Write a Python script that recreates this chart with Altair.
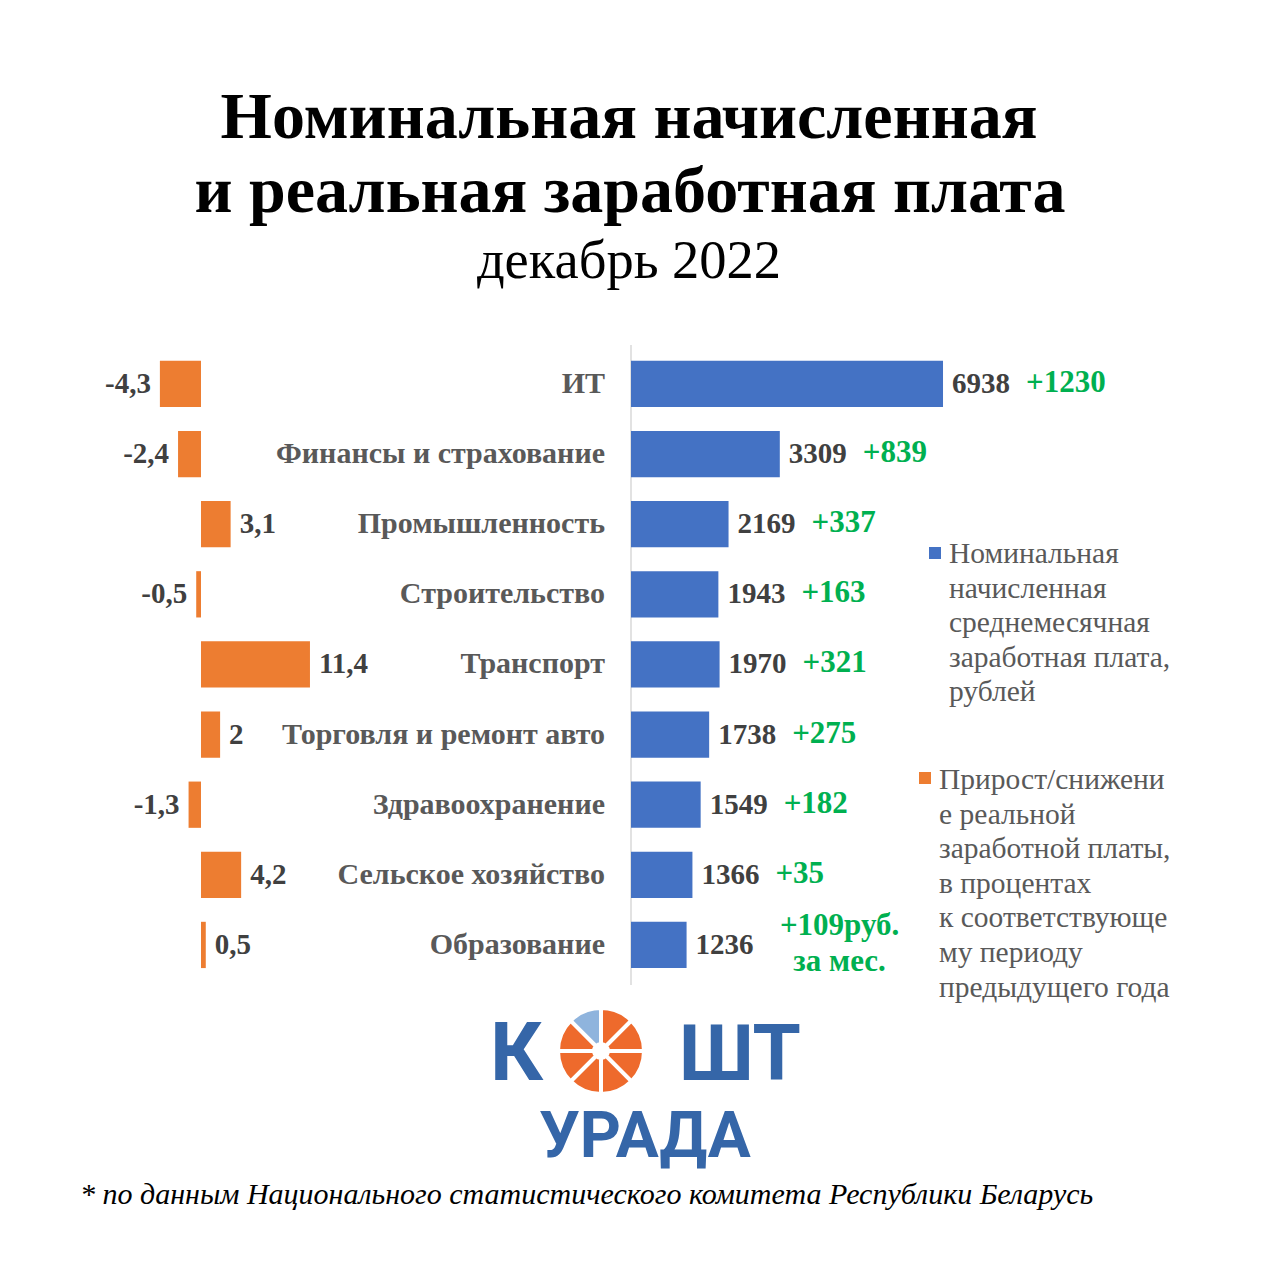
import altair as alt
import pandas as pd

# ---- data ----
categories = ["ИТ", "Финансы и страхование", "Промышленность", "Строительство",
              "Транспорт", "Торговля и ремонт авто", "Здравоохранение",
              "Сельское хозяйство", "Образование"]
nominal = [6938, 3309, 2169, 1943, 1970, 1738, 1549, 1366, 1236]
real_change = [-4.3, -2.4, 3.1, -0.5, 11.4, 2, -1.3, 4.2, 0.5]
increase = ["+1230", "+839", "+337", "+163", "+321", "+275", "+182", "+35",
            "+109руб.\nза мес."]

title_lines = ["Номинальная начисленная", "и реальная заработная плата"]
subtitle = "декабрь 2022"
legend_nominal = "Номинальная\nначисленная\nсреднемесячная\nзаработная плата,\nрублей"
legend_real = ("Прирост/снижени\nе реальной\nзаработной платы,\nв процентах\n"
               "к соответствующе\nму периоду\nпредыдущего года")
footnote = "* по данным Национального статистического комитета Республики Беларусь"
logo_segments = [1, 1, 1, 1, 1, 1, 1, 1]
logo_colors = ["#EE6A2C", "#EE6A2C", "#EE6A2C", "#EE6A2C",
               "#EE6A2C", "#EE6A2C", "#EE6A2C", "#8FB4DD"]

BLUE = "#4472C4"
ORANGE = "#ED7D31"
GREEN = "#00B050"
DARK = "#404040"
GRAY = "#595959"
LOGO_BLUE = "#3566A8"
SERIF = "Liberation Serif"

df = pd.DataFrame({
    "cat": categories,
    "nominal": nominal,
    "real": real_change,
    "real_label": [f"{v:g}".replace(".", ",") for v in real_change],
    "inc": increase,
    "last": [i == len(categories) - 1 for i in range(len(categories))],
})

yscale = alt.Scale(domain=categories, range=[340.9, 972.0],
                   paddingInner=0.34, paddingOuter=0.17)
Y = alt.Y("cat:N", sort=categories, scale=yscale, axis=None)
bscale = alt.Scale(domain=[0, 7000], range=[623, 937.8])
oscale = alt.Scale(domain=[-5, 12], range=[145.2, 307.7])
XB = alt.X("nominal:Q", scale=bscale, axis=None)
XO = alt.X("real:Q", scale=oscale, axis=None)

base = alt.Chart(df)

blue_bars = base.mark_bar(color=BLUE).encode(x=XB, y=Y)
orange_bars = base.mark_bar(color=ORANGE).encode(x=XO, y=Y)

blue_vals = base.mark_text(align="left", baseline="middle", dx=9, font=SERIF,
                           fontSize=29, fontWeight="bold", color=DARK).encode(
    x=XB, y=Y, text="nominal:Q")

green_main = base.transform_filter("!datum.last").mark_text(
    align="left", baseline="middle", dx=83, dy=-1, font=SERIF, fontSize=31,
    fontWeight="bold", color=GREEN).encode(x=XB, y=Y, text="inc:N")

green_last = base.transform_filter("datum.last").mark_text(
    align="center", baseline="middle", dx=153, dy=-19, font=SERIF, fontSize=31,
    fontWeight="bold", color=GREEN, lineBreak="\n", lineHeight=36).encode(
    x=XB, y=Y, text="inc:N")

neg_labels = base.transform_filter("datum.real < 0").mark_text(
    align="right", baseline="middle", dx=-9, font=SERIF, fontSize=29,
    fontWeight="bold", color=DARK).encode(x=XO, y=Y, text="real_label:N")
pos_labels = base.transform_filter("datum.real >= 0").mark_text(
    align="left", baseline="middle", dx=9, font=SERIF, fontSize=29,
    fontWeight="bold", color=DARK).encode(x=XO, y=Y, text="real_label:N")

cat_labels = base.mark_text(align="right", baseline="middle", font=SERIF,
                            fontSize=30, fontWeight="bold", color=GRAY).encode(
    x=alt.value(597), y=Y, text="cat:N")

axis_line = alt.Chart(pd.DataFrame({"a": [0]})).mark_rule(
    color="#D9D9D9", strokeWidth=1.5).encode(
    x=alt.value(623), y=alt.value(337), y2=alt.value(977))


def text_layer(txt, x, y, **kw):
    return alt.Chart(pd.DataFrame({"t": [txt]})).mark_text(**kw).encode(
        x=alt.value(x), y=alt.value(y), text="t:N")


t1 = text_layer(title_lines[0], 621, 130, align="center", baseline="alphabetic",
                font=SERIF, fontSize=66, fontWeight="bold", color="black")
t2 = text_layer(title_lines[1], 622, 204, align="center", baseline="alphabetic",
                font=SERIF, fontSize=66, fontWeight="bold", color="black")
t3 = text_layer(subtitle, 621, 270, align="center", baseline="alphabetic",
                font=SERIF, fontSize=54.5, color="black")

leg1_sq = alt.Chart(pd.DataFrame({"a": [0]})).mark_square(
    color=BLUE, size=144, opacity=1).encode(x=alt.value(927), y=alt.value(545))
leg2_sq = alt.Chart(pd.DataFrame({"a": [0]})).mark_square(
    color=ORANGE, size=144, opacity=1).encode(x=alt.value(917), y=alt.value(770))
leg1_tx = text_layer(legend_nominal, 941, 555, align="left", baseline="alphabetic",
                     font=SERIF, fontSize=29.5, color=GRAY, lineBreak="\n",
                     lineHeight=34.5)
leg2_tx = text_layer(legend_real, 931, 781, align="left", baseline="alphabetic",
                     font=SERIF, fontSize=29.5, color=GRAY, lineBreak="\n",
                     lineHeight=34.6)

foot = text_layer(footnote, 72, 1196, align="left", baseline="alphabetic",
                  font=SERIF, fontSize=30, fontStyle="italic", color="black")

logo_k = text_layer("К", 482, 1072, align="left", baseline="alphabetic",
                    font="Roboto", fontSize=82, fontWeight="bold", color=LOGO_BLUE)
logo_sht = text_layer("ШТ", 671, 1072, align="left", baseline="alphabetic",
                      font="Roboto", fontSize=78, fontWeight="bold", color=LOGO_BLUE)
logo_urada = text_layer("УРАДА", 637, 1149, align="center", baseline="alphabetic",
                        font="Roboto", fontSize=64, fontWeight="bold",
                        color=LOGO_BLUE)
logo_arc = alt.Chart(pd.DataFrame({"v": logo_segments, "c": logo_colors,
                                   "i": list(range(len(logo_segments)))})).mark_arc(
    outerRadius=43, innerRadius=7, stroke="white", strokeWidth=4).encode(
    theta=alt.Theta("v:Q", stack=True),
    color=alt.Color("c:N", scale=None),
    order=alt.Order("i:O"),
    x=alt.value(593), y=alt.value(1043))

chart = alt.layer(
    axis_line, blue_bars, orange_bars, blue_vals, green_main, green_last,
    neg_labels, pos_labels, cat_labels, t1, t2, t3,
    leg1_sq, leg2_sq, leg1_tx, leg2_tx, foot,
    logo_arc, logo_k, logo_sht, logo_urada,
).resolve_scale(x="independent").properties(
    width=1264, height=1264, padding=0, autosize=alt.AutoSizeParams(type="none"),
    background="white"
).configure_view(stroke=None)

chart.save("out.html", embed_options={"renderer": "svg", "actions": False})
